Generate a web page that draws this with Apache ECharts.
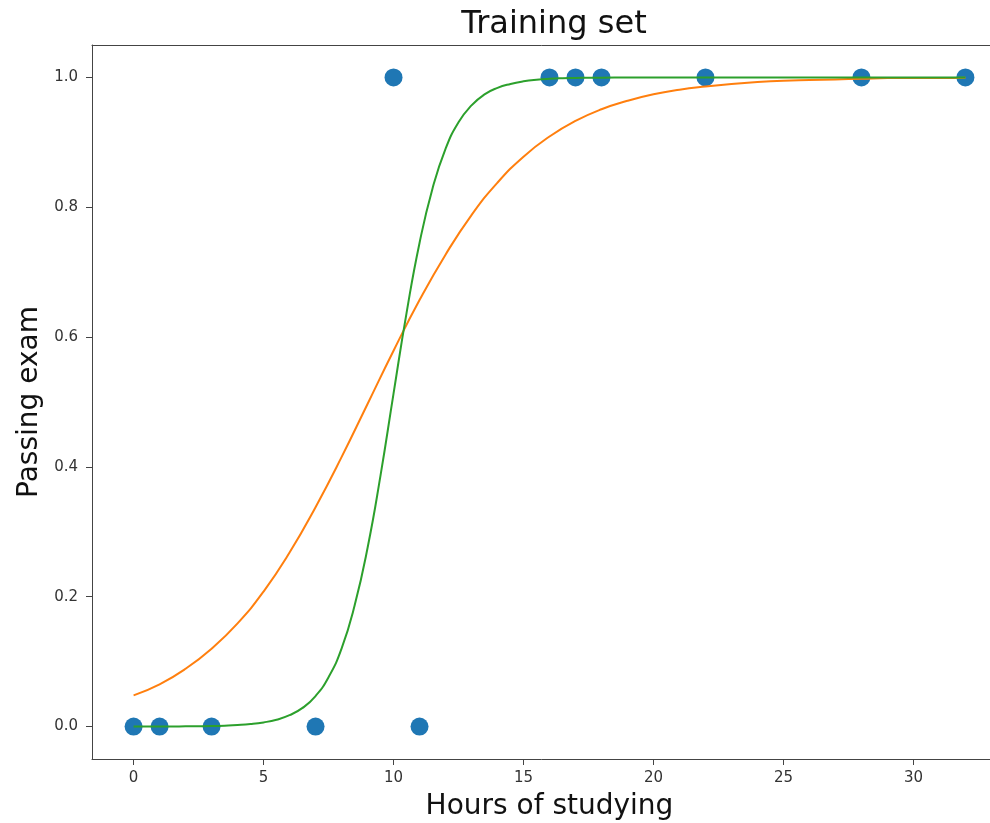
<!DOCTYPE html>
<html>
<head>
<meta charset="utf-8">
<script src="https://cdn.jsdelivr.net/npm/echarts@6/dist/echarts.min.js"></script>
<style>
  html, body { margin: 0; padding: 0; background: #fff; }
  #chart { width: 990px; height: 823px; }
</style>
</head>
<body>
<div id="chart"></div>
<script>
// training points
const hours = [0, 1, 3, 7, 10, 11, 16, 17, 18, 22, 28, 32]
const passed = [0, 0, 0, 0, 1, 0, 1, 1, 1, 1, 1, 1]

// orange curve
const orangeX = [0, 1, 2, 3, 4, 5, 6, 7, 8, 9, 10, 11, 12, 13, 14, 15, 16, 17, 18, 19, 20, 21, 22, 23, 24, 25, 26, 27, 28, 29, 30, 31, 32]
const orangeY = [0.048, 0.065, 0.089, 0.12, 0.159, 0.208, 0.268, 0.338, 0.415, 0.497, 0.579, 0.657, 0.727, 0.788, 0.838, 0.878, 0.909, 0.933, 0.951, 0.964, 0.974, 0.981, 0.986, 0.99, 0.993, 0.995, 0.996, 0.997, 0.998, 0.999, 0.999, 0.999, 0.9995]

// green curve
const greenX = [0, 0.5, 1, 1.5, 2, 2.5, 3, 3.5, 4, 4.5, 5, 5.5, 6, 6.5, 7, 7.5, 8, 8.5, 9, 9.5, 10, 10.5, 11, 11.5, 12, 12.5, 13, 13.5, 14, 14.5, 15, 15.5, 16, 16.5, 17, 17.5, 18, 19, 20, 21, 22, 23, 24, 25, 26, 27, 28, 29, 30, 31, 32]
const greenY = [0, 0, 0.0001, 0.0002, 0.0003, 0.0005, 0.0008, 0.0014, 0.0023, 0.0038, 0.0064, 0.0106, 0.0175, 0.0287, 0.047, 0.076, 0.12, 0.186, 0.275, 0.387, 0.513, 0.637, 0.745, 0.829, 0.89, 0.931, 0.957, 0.974, 0.984, 0.99, 0.994, 0.9965, 0.998, 0.9988, 0.9992, 0.9995, 0.9997, 0.9999, 1, 1, 1, 1, 1, 1, 1, 1, 1, 1, 1, 1, 1]

const xTicks = [0, 5, 10, 15, 20, 25, 30]
const yTicks = [0, 0.2, 0.4, 0.6, 0.8, 1.0]

const font = 'DejaVu Sans'
const axisColor = '#444'

const chart = echarts.init(document.getElementById('chart'), null, { renderer: 'canvas' })

chart.setOption({
  animation: false,
  backgroundColor: '#fff',
  title: {
    text: 'Training set',
    left: 549,
    top: 4,
    textAlign: 'center',
    textStyle: { fontFamily: font, fontSize: 32, fontWeight: 'normal', color: '#111' },
  },
  grid: { left: 92, right: -17, top: 45, bottom: 64, outerBoundsMode: 'none' },
  xAxis: [
    {
      type: 'value',
      min: -1.6,
      max: 33.6,
      name: 'Hours of studying',
      nameLocation: 'middle',
      nameGap: 34,
      nameTextStyle: { fontFamily: font, fontSize: 28, color: '#111' },
      axisLine: { show: true, onZero: false, lineStyle: { color: axisColor, width: 1 } },
      axisTick: { show: true, length: 6, customValues: xTicks, lineStyle: { color: axisColor } },
      axisLabel: {
        customValues: xTicks,
        margin: 12,
        fontFamily: font,
        fontSize: 15,
        color: '#333',
      },
      splitLine: { show: false },
    },
    {
      type: 'value',
      position: 'top',
      min: -1.6,
      max: 33.6,
      axisLine: { show: true, onZero: false, lineStyle: { color: axisColor, width: 1 } },
      axisTick: { show: false },
      axisLabel: { show: false },
      splitLine: { show: false },
    },
  ],
  yAxis: {
    type: 'value',
    min: -0.05,
    max: 1.05,
    name: 'Passing exam',
    nameLocation: 'middle',
    nameGap: 44,
    nameTextStyle: { fontFamily: font, fontSize: 28, color: '#111' },
    axisLine: { show: true, onZero: false, lineStyle: { color: axisColor, width: 1 } },
    axisTick: { show: true, length: 6, customValues: yTicks, lineStyle: { color: axisColor } },
    axisLabel: {
      customValues: yTicks,
      margin: 14,
      fontFamily: font,
      fontSize: 15,
      color: '#333',
      formatter: (v) => v.toFixed(1),
    },
    splitLine: { show: false },
  },
  series: [
    {
      type: 'scatter',
      data: hours.map((h, i) => [h, passed[i]]),
      symbolSize: 18,
      itemStyle: { color: '#1f77b4', opacity: 1 },
      z: 1,
    },
    {
      type: 'line',
      data: orangeX.map((x, i) => [x, orangeY[i]]),
      showSymbol: false,
      symbol: 'none',
      smooth: true,
      lineStyle: { color: '#ff7f0e', width: 2 },
      z: 2,
    },
    {
      type: 'line',
      data: greenX.map((x, i) => [x, greenY[i]]),
      showSymbol: false,
      symbol: 'none',
      smooth: true,
      lineStyle: { color: '#2ca02c', width: 2 },
      z: 3,
    },
  ],
})
</script>
</body>
</html>
